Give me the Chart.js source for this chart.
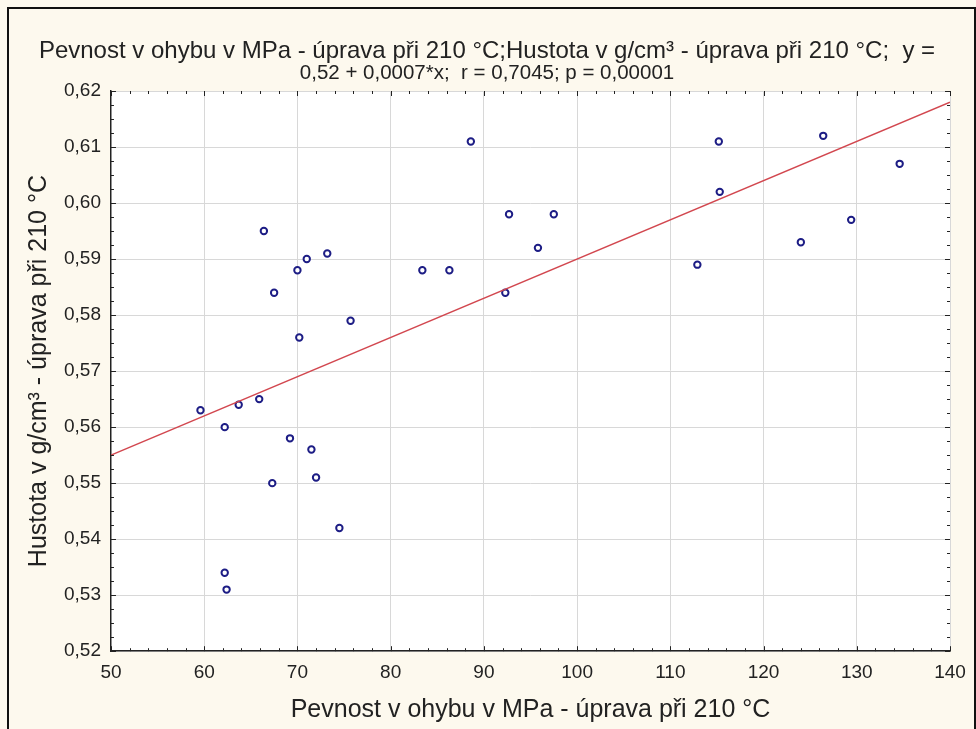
<!DOCTYPE html>
<html>
<head>
<meta charset="utf-8">
<script src="https://cdn.jsdelivr.net/npm/chart.js@4.4.1/dist/chart.umd.min.js"></script>
<style>
  html, body { margin: 0; padding: 0; background: #fdf9ee; }
  #wrap { width: 976px; height: 729px; position: relative; }
</style>
</head>
<body>
<div id="wrap"><canvas id="graphic"></canvas></div>
<script>
// Pevnost v ohybu (MPa) vs. hustota (g/cm3), úprava při 210 °C
const pevnost = [
  59.6, 62.2, 63.7, 65.9, 67.5, 70.0, 71.0, 73.2, 75.7, 70.2, 69.2,
  71.5, 67.3, 72.0, 74.5, 62.2, 62.4, 88.6, 92.7, 97.5, 95.8, 83.4,
  86.3, 92.3, 112.9, 115.2, 115.3, 126.4, 134.6, 129.4, 124.0, 66.4,
];
const hustota = [
  0.563, 0.560, 0.564, 0.565, 0.584, 0.588, 0.590, 0.591, 0.579, 0.576, 0.558,
  0.556, 0.550, 0.551, 0.542, 0.534, 0.531, 0.611, 0.598, 0.598, 0.592, 0.588,
  0.588, 0.584, 0.589, 0.611, 0.602, 0.612, 0.607, 0.597, 0.593, 0.595,
];

// regresní přímka y = 0,52 + 0,0007*x
const intercept = 0.52;
const slope = 0.0007;
const xRange = [50, 140];
const yRange = [0.52, 0.62];

const titleText = "Pevnost v ohybu v MPa - úprava při 210 °C;Hustota v g/cm³ - úprava při 210 °C;  y =";
const subtitleText = "0,52 + 0,0007*x;  r = 0,7045; p = 0,00001";
const xTitle = "Pevnost v ohybu v MPa - úprava při 210 °C";
const yTitle = "Hustota v g/cm³ - úprava při 210 °C";

const points = pevnost.map((x, i) => ({ x: x, y: hustota[i] }));
const fit = xRange.map((x) => ({ x: x, y: intercept + slope * x }));

const comma = (v, d) => v.toFixed(d).replace(".", ",");

// pozadí, bílá plocha grafu, rámeček a vedlejší značky
const decor = {
  id: "decor",
  beforeDraw(chart) {
    const { ctx, chartArea: a } = chart;
    ctx.save();
    ctx.fillStyle = "#fdf9ee";
    ctx.fillRect(0, 0, chart.width, chart.height);
    ctx.fillStyle = "#ffffff";
    ctx.fillRect(a.left, a.top, a.right - a.left, a.bottom - a.top);
    ctx.restore();
  },
  afterDraw(chart) {
    const { ctx, chartArea: a, scales } = chart;
    ctx.save();
    ctx.strokeStyle = "#222";
    ctx.lineWidth = 1;
    ctx.beginPath();
    for (let v = xRange[0]; v <= xRange[1]; v += 2) {
      const px = Math.round(scales.x.getPixelForValue(v)) + 0.5;
      const len = v % 10 === 0 ? 5 : 3;
      ctx.moveTo(px, a.bottom); ctx.lineTo(px, a.bottom - len);
      ctx.moveTo(px, a.top); ctx.lineTo(px, a.top + len);
    }
    for (let k = 0; k <= 40; k++) {
      const v = yRange[0] + k * 0.0025;
      const py = Math.round(scales.y.getPixelForValue(v)) + 0.5;
      const len = k % 4 === 0 ? 5 : 3;
      ctx.moveTo(a.left, py); ctx.lineTo(a.left + len, py);
      ctx.moveTo(a.right, py); ctx.lineTo(a.right - len, py);
    }
    ctx.stroke();
    // vnější rámeček
    ctx.lineWidth = 2;
    ctx.strokeStyle = "#111";
    ctx.beginPath();
    ctx.moveTo(8, chart.height);
    ctx.lineTo(8, 8);
    ctx.lineTo(chart.width - 1, 8);
    ctx.lineTo(chart.width - 1, chart.height);
    ctx.stroke();
    ctx.restore();
  },
};

Chart.defaults.font.family = "'Liberation Sans', Arial, sans-serif";
Chart.defaults.color = "#222";

window.myChart = new Chart(document.getElementById("graphic"), {
  type: "scatter",
  data: {
    datasets: [
      {
        label: "fit",
        type: "line",
        data: fit,
        borderColor: "#d2474f",
        borderWidth: 1.5,
        pointRadius: 0,
        fill: false,
      },
      {
        label: "body",
        data: points,
        pointStyle: "circle",
        pointRadius: 3.2,
        pointBorderWidth: 2,
        borderColor: "#1d1d85",
        backgroundColor: "#ffffff",
      },
    ],
  },
  options: {
    responsive: true,
    maintainAspectRatio: false,
    animation: false,
    layout: { padding: { left: 24, right: 26, top: 8, bottom: 0 } },
    plugins: {
      legend: { display: false },
      tooltip: { enabled: false },
      title: {
        display: true,
        text: titleText,
        font: { size: 24, weight: "normal", lineHeight: 0.92 },
        padding: { top: 32, bottom: 0 },
      },
      subtitle: {
        display: true,
        text: subtitleText,
        color: "#222",
        font: { size: 20.5, weight: "normal", lineHeight: 1.07 },
        padding: { top: 0, bottom: 7 },
      },
    },
    scales: {
      x: {
        type: "linear",
        min: xRange[0],
        max: xRange[1],
        grid: { color: "#d8d8d8", drawTicks: false },
        border: { color: "#222", width: 1.5 },
        ticks: {
          stepSize: 10,
          padding: 10,
          font: { size: 19 },
          callback: (v) => comma(v, 0),
        },
        title: {
          display: true,
          text: xTitle,
          font: { size: 25, lineHeight: 1.2 },
          padding: { top: 1, bottom: 4 },
        },
      },
      y: {
        type: "linear",
        min: yRange[0],
        max: yRange[1],
        grid: { color: "#d8d8d8", drawTicks: false },
        border: { color: "#222", width: 1.5 },
        ticks: {
          stepSize: 0.01,
          padding: 10,
          font: { size: 19 },
          callback: (v) => comma(v, 2),
        },
        title: {
          display: true,
          text: yTitle,
          font: { size: 25, lineHeight: 1.2 },
          padding: { top: 0, bottom: 0 },
        },
      },
    },
  },
  plugins: [decor],
});
</script>
</body>
</html>
